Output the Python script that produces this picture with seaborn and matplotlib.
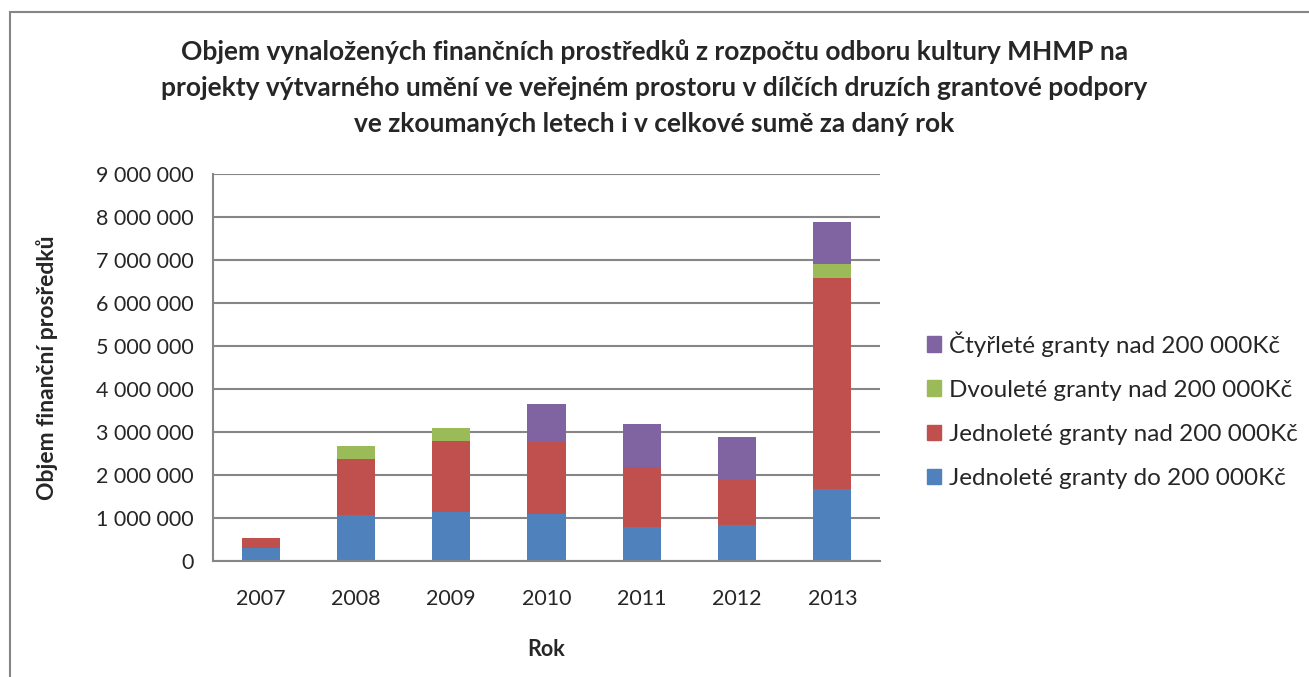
import matplotlib.pyplot as plt
import matplotlib.patches as mpatches
from matplotlib.ticker import FuncFormatter, FixedLocator
import seaborn as sns
import numpy as np

years = ["2007", "2008", "2009", "2010", "2011", "2012", "2013"]
jedno_do = [300000, 1065000, 1135000, 1090000, 785000, 840000, 1670000]
jedno_nad = [240000, 1300000, 1650000, 1680000, 1400000, 1050000, 4920000]
dvou_nad = [0, 310000, 310000, 0, 0, 0, 310000]
ctyr_nad = [0, 0, 0, 870000, 1000000, 1000000, 990000]

series = [
    ("Jednoleté granty do 200 000Kč", jedno_do, "#4F81BD"),
    ("Jednoleté granty nad 200 000Kč", jedno_nad, "#C0504D"),
    ("Dvouleté granty nad 200 000Kč", dvou_nad, "#9BBB59"),
    ("Čtyřleté granty nad 200 000Kč", ctyr_nad, "#8064A2"),
]

sns.set_style("white")
plt.rcParams["font.family"] = ["Lato", "DejaVu Sans"]

fig = plt.figure(figsize=(13.09, 6.77), dpi=100)
ax = fig.add_axes([213 / 1309, 1 - 561 / 677, (880 - 213) / 1309, (561 - 174) / 677])

bottom = np.zeros(len(years))
handles = []
for label, vals, color in series:
    sns.barplot(x=years, y=vals, bottom=bottom, color=color, width=0.4,
                saturation=1, ax=ax, linewidth=0)
    bottom += np.array(vals)
    handles.append(mpatches.Patch(color=color, label=label))

ax.set_ylim(0, 9000000)
ax.set_xlim(-0.5, 6.5)
ax.set_yticks(np.arange(0, 9000001, 1000000))
ax.yaxis.set_major_formatter(FuncFormatter(lambda v, p: f"{int(v):,}".replace(",", " ")))
ax.grid(axis="y", color="#868686", linewidth=1.5)
ax.set_axisbelow(True)

for s in ["top", "right"]:
    ax.spines[s].set_visible(False)
for s in ["left", "bottom"]:
    ax.spines[s].set_color("#868686")
    ax.spines[s].set_linewidth(1.5)

ax.tick_params(axis="y", length=7, width=1.5, color="#868686", labelsize=15.5, pad=7)
ax.tick_params(axis="x", which="major", length=0, labelsize=15.5, pad=20)
ax.xaxis.set_minor_locator(FixedLocator(np.arange(-0.5, 7, 1)))
ax.tick_params(axis="x", which="minor", length=7, width=1.5, color="#868686", direction="out")

ax.set_xlabel("Rok", fontsize=15.5, fontweight="bold", labelpad=22)
ax.set_ylabel("Objem finanční prosředků", fontsize=16.5, fontweight="bold", labelpad=27)

fig.text(0.5, 1 - 88 / 677,
         "Objem vynaložených finančních prostředků z rozpočtu odboru kultury MHMP na\n"
         "projekty výtvarného umění ve veřejném prostoru v dílčích druzích grantové podpory\n"
         "ve zkoumaných letech i v celkové sumě za daný rok",
         ha="center", va="center", fontsize=19, fontweight="bold", linespacing=1.6)

leg = fig.legend(handles=handles[::-1], loc="center left",
                 bbox_to_anchor=(905 / 1309, 1 - 410 / 677), frameon=False,
                 fontsize=17.5, handlelength=0.6, handleheight=0.6,
                 handletextpad=0.3, labelspacing=0.95)

fig.patches.append(mpatches.Rectangle((10 / 1309, -0.1), 1.2, 1 - 12 / 677 + 0.1,
                                      transform=fig.transFigure, fill=False,
                                      edgecolor="#868686", linewidth=1.5))

fig.savefig("out.png", dpi=100)
